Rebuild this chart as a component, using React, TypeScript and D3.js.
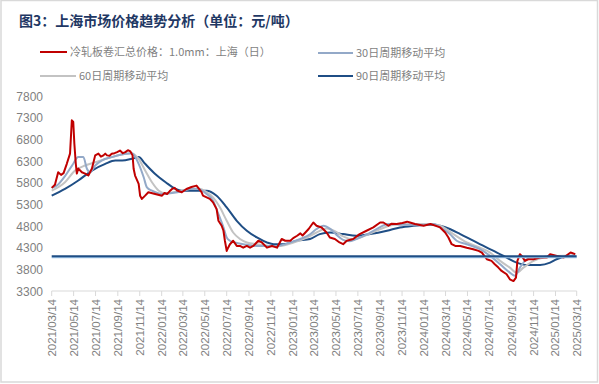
import React from 'react';
import * as d3 from 'd3';

// 冷轧板卷汇总价格：1.0mm：上海（日）
const priceData: [string, number][] = [
  ['2021-03-14', 5680], ['2021-03-23', 5750], ['2021-04-01', 6040], ['2021-04-09', 5980],
  ['2021-04-16', 6020], ['2021-04-25', 6235], ['2021-05-04', 6470], ['2021-05-09', 7240],
  ['2021-05-13', 7200], ['2021-05-16', 6705], ['2021-05-20', 6240], ['2021-05-23', 6010],
  ['2021-05-27', 6125], ['2021-06-06', 6040], ['2021-06-15', 6010], ['2021-06-24', 5965],
  ['2021-07-04', 6125], ['2021-07-13', 6430], ['2021-07-22', 6470], ['2021-07-29', 6400],
  ['2021-08-05', 6430], ['2021-08-10', 6470], ['2021-08-15', 6430], ['2021-08-22', 6420],
  ['2021-08-28', 6465], ['2021-09-05', 6480], ['2021-09-12', 6505], ['2021-09-20', 6540],
  ['2021-09-28', 6480], ['2021-10-05', 6505], ['2021-10-12', 6550], ['2021-10-19', 6520],
  ['2021-10-25', 6430], ['2021-10-28', 6120], ['2021-11-01', 5965],
  ['2021-11-11', 5770], ['2021-11-15', 5500], ['2021-11-20', 5425], ['2021-11-29', 5500],
  ['2021-12-08', 5580], ['2021-12-27', 5540], ['2022-01-15', 5500], ['2022-01-22', 5560],
  ['2022-01-29', 5540], ['2022-02-05', 5600], ['2022-02-12', 5655], ['2022-02-19', 5680],
  ['2022-02-26', 5620], ['2022-03-11', 5580], ['2022-03-24', 5655],
  ['2022-04-07', 5700], ['2022-04-21', 5732], ['2022-05-05', 5580], ['2022-05-09', 5500],
  ['2022-05-28', 5425], ['2022-06-06', 5345], ['2022-06-16', 5190], ['2022-06-21', 4920],
  ['2022-06-30', 4805], ['2022-07-05', 4690], ['2022-07-09', 4460], ['2022-07-14', 4225],
  ['2022-07-18', 4300], ['2022-07-23', 4380], ['2022-08-01', 4460], ['2022-08-11', 4340],
  ['2022-08-20', 4340], ['2022-08-29', 4300], ['2022-09-08', 4340], ['2022-09-17', 4300],
  ['2022-09-26', 4340], ['2022-10-10', 4460], ['2022-10-20', 4420], ['2022-11-03', 4300],
  ['2022-11-17', 4340], ['2022-12-01', 4300], ['2022-12-14', 4500], ['2022-12-24', 4460],
  ['2023-01-07', 4460], ['2023-01-15', 4520], ['2023-01-26', 4575], ['2023-02-04', 4630],
  ['2023-02-10', 4580], ['2023-02-18', 4650], ['2023-02-27', 4730], ['2023-03-05', 4800],
  ['2023-03-12', 4880], ['2023-03-21', 4805], ['2023-04-04', 4767],
  ['2023-04-18', 4650], ['2023-04-27', 4535], ['2023-05-11', 4500], ['2023-05-24', 4420],
  ['2023-06-03', 4380], ['2023-06-13', 4460], ['2023-07-01', 4500], ['2023-07-19', 4613],
  ['2023-08-07', 4690], ['2023-08-26', 4767], ['2023-09-14', 4880], ['2023-09-23', 4880],
  ['2023-10-07', 4805], ['2023-10-15', 4850], ['2023-10-30', 4845], ['2023-11-15', 4870],
  ['2023-11-28', 4900], ['2023-12-06', 4880], ['2023-12-20', 4845],
  ['2024-01-13', 4805], ['2024-02-01', 4845], ['2024-02-28', 4767], ['2024-03-13', 4650],
  ['2024-03-22', 4535], ['2024-03-31', 4380], ['2024-04-10', 4340], ['2024-04-24', 4340],
  ['2024-05-12', 4300], ['2024-05-30', 4265], ['2024-06-14', 4225], ['2024-06-23', 4187],
  ['2024-07-07', 4033], ['2024-07-20', 3995], ['2024-07-29', 3918], ['2024-08-08', 3840],
  ['2024-08-17', 3763], ['2024-08-31', 3687], ['2024-09-09', 3570], ['2024-09-19', 3530],
  ['2024-09-26', 3608], ['2024-09-30', 3995], ['2024-10-07', 4150], ['2024-10-12', 4110],
  ['2024-10-21', 3995], ['2024-10-30', 4033], ['2024-11-14', 4033], ['2024-12-02', 4072],
  ['2024-12-21', 4072], ['2024-12-30', 4150], ['2025-01-18', 4110], ['2025-02-06', 4072],
  ['2025-02-25', 4187], ['2025-03-10', 4150],
];

const ma30Data: [string, number][] = [
  ['2021-03-14', 5680], ['2021-04-01', 5760], ['2021-04-20', 5950], ['2021-05-10', 6200],
  ['2021-05-27', 6390], ['2021-06-10', 6390], ['2021-06-20', 6120], ['2021-06-29', 6040],
  ['2021-07-13', 6195], ['2021-07-31', 6310], ['2021-08-28', 6390], ['2021-10-05', 6465],
  ['2021-10-23', 6480], ['2021-11-11', 6235], ['2021-11-25', 5925], ['2021-12-04', 5690],
  ['2021-12-18', 5615], ['2022-01-15', 5540], ['2022-02-12', 5560], ['2022-03-11', 5600],
  ['2022-04-02', 5655], ['2022-04-21', 5660], ['2022-05-19', 5540], ['2022-06-06', 5385],
  ['2022-06-21', 5075], ['2022-07-05', 4767], ['2022-07-14', 4535], ['2022-07-23', 4460],
  ['2022-08-06', 4420], ['2022-08-29', 4380], ['2022-10-06', 4340], ['2022-11-03', 4340],
  ['2022-12-01', 4340], ['2023-01-07', 4420], ['2023-02-04', 4500], ['2023-03-03', 4610],
  ['2023-03-21', 4730], ['2023-04-09', 4805], ['2023-04-27', 4740], ['2023-05-15', 4600],
  ['2023-06-03', 4480], ['2023-06-22', 4450], ['2023-07-10', 4500], ['2023-08-07', 4600],
  ['2023-09-04', 4730], ['2023-10-07', 4845], ['2023-11-08', 4830], ['2023-12-15', 4830],
  ['2024-01-17', 4830], ['2024-02-10', 4845], ['2024-02-28', 4767], ['2024-03-26', 4613],
  ['2024-04-14', 4460], ['2024-05-12', 4380], ['2024-06-18', 4265], ['2024-07-16', 4110],
  ['2024-08-13', 3918], ['2024-09-09', 3725], ['2024-09-23', 3650], ['2024-10-07', 3840],
  ['2024-10-21', 3995], ['2024-11-05', 4072], ['2024-12-02', 4072], ['2024-12-30', 4110],
  ['2025-02-05', 4090], ['2025-03-10', 4130],
];

const ma60Data: [string, number][] = [
  ['2021-03-14', 5615], ['2021-04-20', 5810], ['2021-05-18', 6080], ['2021-06-15', 6195],
  ['2021-07-13', 6270], ['2021-08-28', 6390], ['2021-10-05', 6465], ['2021-10-21', 6480],
  ['2021-11-11', 6350], ['2021-11-29', 6080], ['2021-12-18', 5810], ['2022-01-06', 5615],
  ['2022-01-25', 5555], ['2022-03-01', 5600], ['2022-04-02', 5655], ['2022-04-30', 5660],
  ['2022-05-19', 5580], ['2022-06-06', 5460], ['2022-06-25', 5230], ['2022-07-14', 4920],
  ['2022-08-01', 4650], ['2022-08-20', 4500], ['2022-09-08', 4420], ['2022-10-06', 4380],
  ['2022-11-12', 4340], ['2022-12-10', 4340], ['2023-01-16', 4420], ['2023-02-22', 4535],
  ['2023-03-21', 4650], ['2023-04-18', 4740], ['2023-05-11', 4680], ['2023-06-03', 4560],
  ['2023-07-01', 4490], ['2023-07-29', 4560], ['2023-09-01', 4680], ['2023-10-03', 4790],
  ['2023-10-30', 4840], ['2023-12-15', 4840], ['2024-02-10', 4840], ['2024-02-28', 4805],
  ['2024-04-05', 4613], ['2024-05-12', 4420], ['2024-06-18', 4300], ['2024-07-16', 4187],
  ['2024-08-13', 3995], ['2024-09-09', 3840], ['2024-09-28', 3725], ['2024-10-17', 3840],
  ['2024-11-14', 3995], ['2024-12-12', 4072], ['2025-01-18', 4110], ['2025-03-10', 4120],
];

const ma90Data: [string, number][] = [
  ['2021-03-14', 5500], ['2021-04-20', 5655], ['2021-05-27', 5850], ['2021-07-04', 6080],
  ['2021-08-10', 6235], ['2021-09-07', 6310], ['2021-09-26', 6310], ['2021-10-23', 6350],
  ['2021-11-11', 6390], ['2021-11-29', 6235], ['2021-12-27', 6000], ['2022-01-25', 5810],
  ['2022-02-22', 5655], ['2022-03-11', 5615], ['2022-04-02', 5615], ['2022-05-19', 5615],
  ['2022-06-16', 5500], ['2022-07-14', 5230], ['2022-08-11', 4920], ['2022-09-08', 4690],
  ['2022-10-06', 4535], ['2022-11-03', 4420], ['2022-11-22', 4380], ['2022-12-19', 4380],
  ['2023-01-26', 4460], ['2023-03-03', 4500], ['2023-03-30', 4613], ['2023-04-27', 4650],
  ['2023-06-03', 4613], ['2023-07-10', 4575], ['2023-08-17', 4613], ['2023-10-03', 4690],
  ['2023-11-08', 4767], ['2023-12-15', 4805], ['2024-02-10', 4830], ['2024-02-28', 4805],
  ['2024-03-26', 4730], ['2024-04-24', 4613], ['2024-05-30', 4460], ['2024-07-07', 4300],
  ['2024-08-04', 4187], ['2024-08-31', 4072], ['2024-09-28', 3955], ['2024-10-26', 3900],
  ['2024-12-02', 3900], ['2024-12-30', 3955], ['2025-01-17', 4033], ['2025-02-14', 4095],
  ['2025-03-10', 4100],
];

const refLevel = 4100;

const yTicks = [3300, 3800, 4300, 4800, 5300, 5800, 6300, 6800, 7300, 7800];

const xTickLabels = [
  '2021/03/14', '2021/05/14', '2021/07/14', '2021/09/14', '2021/11/14',
  '2022/01/14', '2022/03/14', '2022/05/14', '2022/07/14', '2022/09/14', '2022/11/14',
  '2023/01/14', '2023/03/14', '2023/05/14', '2023/07/14', '2023/09/14', '2023/11/14',
  '2024/01/14', '2024/03/14', '2024/05/14', '2024/07/14', '2024/09/14', '2024/11/14',
  '2025/01/14', '2025/03/14',
];

const title = '图3：上海市场价格趋势分析（单位：元/吨）';
const seriesNames = ['冷轧板卷汇总价格：1.0mm：上海（日）', '30日周期移动平均', '60日周期移动平均', '90日周期移动平均'];

const parseDay = d3.timeParse('%Y-%m-%d');
const parseTick = d3.timeParse('%Y/%m/%d');

const W = 599;
const H = 384;
const cjk = '"Noto Sans CJK SC", sans-serif';
const num = '"Liberation Sans", Arial, sans-serif';

const App = () => {
  const x = d3.scaleTime()
    .domain([parseTick(xTickLabels[0])!, parseTick(xTickLabels[xTickLabels.length - 1])!])
    .range([51.7, 576.7]);
  const y = d3.scaleLinear().domain([3300, 7800]).range([291, 96]);

  const line = (curve: d3.CurveFactory) => d3.line<[string, number]>()
    .x(d => x(parseDay(d[0])!))
    .y(d => y(d[1]))
    .curve(curve);

  const smooth = line(d3.curveMonotoneX);
  const raw = line(d3.curveLinear);

  const series = [
    { name: seriesNames[3], data: ma90Data, color: '#1F4E85', gen: smooth },
    { name: seriesNames[2], data: ma60Data, color: '#C3C3C3', gen: smooth },
    { name: seriesNames[1], data: ma30Data, color: '#93A9C8', gen: smooth },
    { name: seriesNames[0], data: priceData, color: '#C00000', gen: raw },
  ];

  const legend = [
    { name: seriesNames[0], color: '#C00000', x: 40, y: 52, len: 27 },
    { name: seriesNames[1], color: '#93A9C8', x: 318, y: 53, len: 35 },
    { name: seriesNames[2], color: '#C3C3C3', x: 40, y: 76, len: 36 },
    { name: seriesNames[3], color: '#1F4E85', x: 318, y: 76, len: 35 },
  ];

  const [x0, x1] = x.range();

  return (
    <svg width={W} height={H} style={{ position: 'absolute', left: 0, top: 0, background: '#fff' }}>
      <rect x={1} y={0.5} width={W - 2.5} height={H - 2.5} fill="#fff" stroke="#D9D9D9" strokeWidth={1.5} />

      <text x={19} y={26} fontFamily={cjk} fontWeight={700} fontSize={14} fill="#1F3864">{title}</text>

      {legend.map(l => (
        <g key={l.name}>
          <line x1={l.x} x2={l.x + l.len} y1={l.y} y2={l.y} stroke={l.color} strokeWidth={2} />
          <text x={l.x + l.len + 3} y={l.y + 4} fontFamily={cjk} fontSize={11} fill="#7F7F7F">{l.name}</text>
        </g>
      ))}

      {yTicks.map(t => (
        <text key={t} x={43} y={y(t) + 4.5} textAnchor="end" fontFamily={num} fontSize={12} fill="#7F7F7F">{t}</text>
      ))}

      <line x1={x0} x2={x1} y1={y(3300)} y2={y(3300)} stroke="#D9D9D9" strokeWidth={1} />
      {xTickLabels.map(t => {
        const tx = x(parseTick(t)!);
        return (
          <g key={t}>
            <line x1={tx} x2={tx} y1={y(3300)} y2={y(3300) + 5} stroke="#D9D9D9" strokeWidth={1} />
            <text transform={`translate(${tx + 4},${y(3300) + 8}) rotate(-90)`} textAnchor="end"
              fontFamily={num} fontSize={11.5} fill="#7F7F7F">{t}</text>
          </g>
        );
      })}

      {series.map(s => (
        <path key={s.name} d={s.gen(s.data) ?? ''} fill="none" stroke={s.color} strokeWidth={2}
          strokeLinejoin="round" />
      ))}

      <line x1={x0} x2={x1} y1={y(refLevel) + 1.3} y2={y(refLevel) + 1.3} stroke="#9DC3E6" strokeWidth={1.3} />
      <line x1={x0} x2={x1} y1={y(refLevel)} y2={y(refLevel)} stroke="#1F4E85" strokeWidth={2} />
    </svg>
  );
};

export default App;
